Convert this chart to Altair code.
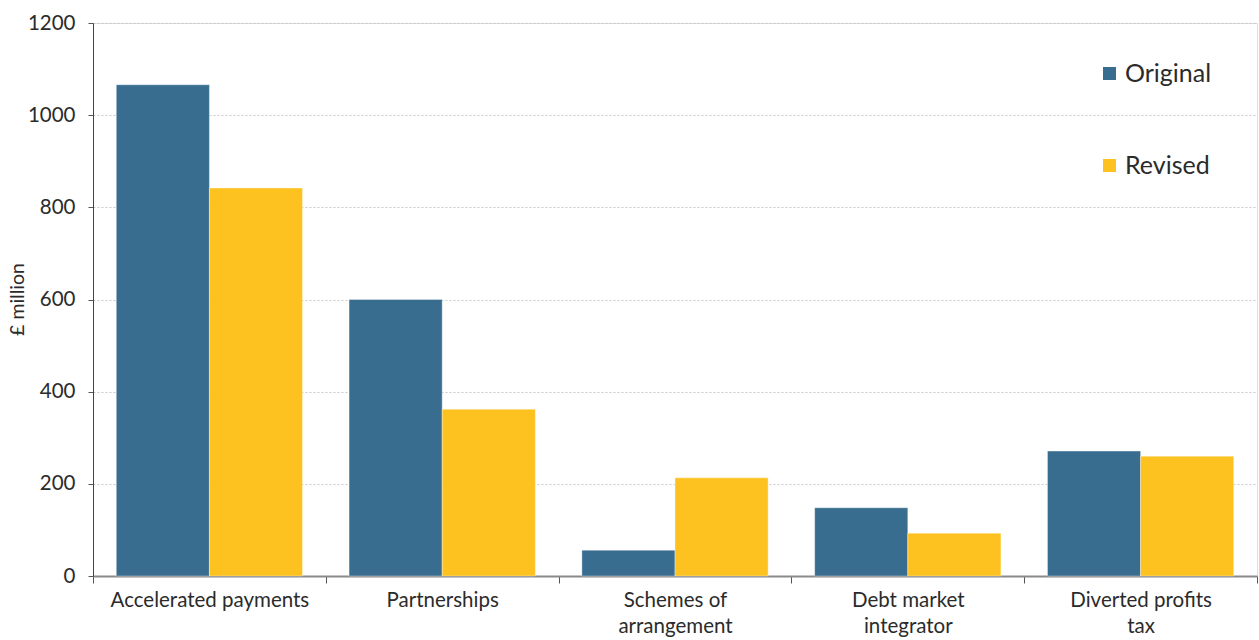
import altair as alt
import pandas as pd

categories = ["Accelerated payments", "Partnerships", "Schemes of\narrangement",
              "Debt market\nintegrator", "Diverted profits\ntax"]
original = [1066, 600, 56, 148, 271]
revised = [842, 362, 213, 93, 260]
series = ["Original", "Revised"]
colors = ["#386d8f", "#fdc21f"]

rows = []
for c, o, r in zip(categories, original, revised):
    rows.append({"category": c, "series": "Original", "value": o})
    rows.append({"category": c, "series": "Revised", "value": r})
df = pd.DataFrame(rows)

FONT = "Lato"

chart = alt.Chart(df).mark_bar(stroke="#ffffff", strokeWidth=0.6, strokeOpacity=0.6).encode(
    x=alt.X("category:N", sort=categories, title=None,
            scale=alt.Scale(paddingInner=0, paddingOuter=0),
            axis=alt.Axis(labelAngle=0, tickBand="extent", tickSize=7, tickColor="#555555",
                          domainColor="#8a8a8a", domainWidth=2, labelPadding=7,
                          labelFontSize=20.5, labelColor="#2b2b2b", labelFont=FONT,
                          labelExpr="split(datum.label, '\\n')", labelLineHeight=26,
                          labelLimit=300)),
    xOffset=alt.XOffset("series:N", sort=series,
                        scale=alt.Scale(paddingOuter=0.25, paddingInner=0)),
    y=alt.Y("value:Q", title="£ million",
            scale=alt.Scale(domain=[0, 1200]),
            axis=alt.Axis(values=[0, 200, 400, 600, 800, 1000, 1200], format="d", tickSize=5,
                          tickColor="#555555", domainColor="#444444", domainWidth=1,
                          labelFontSize=20.5, labelColor="#2b2b2b", labelFont=FONT,
                          labelPadding=13, grid=True, gridColor="#c8c8c8",
                          gridDash=[2, 2], gridWidth=1,
                          titleFontSize=19.5, titleFont=FONT, titleFontWeight="normal",
                          titleColor="#2b2b2b", titleX=-66, titleY=276)),
    color=alt.Color("series:N", sort=series, title=None,
                    scale=alt.Scale(domain=series, range=colors),
                    legend=alt.Legend(orient="none", legendX=1004, legendY=38,
                                      symbolType="square", symbolSize=169,
                                      symbolStrokeWidth=0, labelFontSize=25,
                                      labelFont=FONT, labelColor="#2b2b2b",
                                      rowPadding=66, labelOffset=3)),
).properties(
    width=1164, height=553,
    autosize=alt.AutoSizeParams(type="none"),
    padding={"left": 93, "top": 23, "right": 2, "bottom": 64},
).configure_view(stroke=None).configure(background="white")

chart.save("out.html", embed_options={"renderer": "svg", "actions": False})
